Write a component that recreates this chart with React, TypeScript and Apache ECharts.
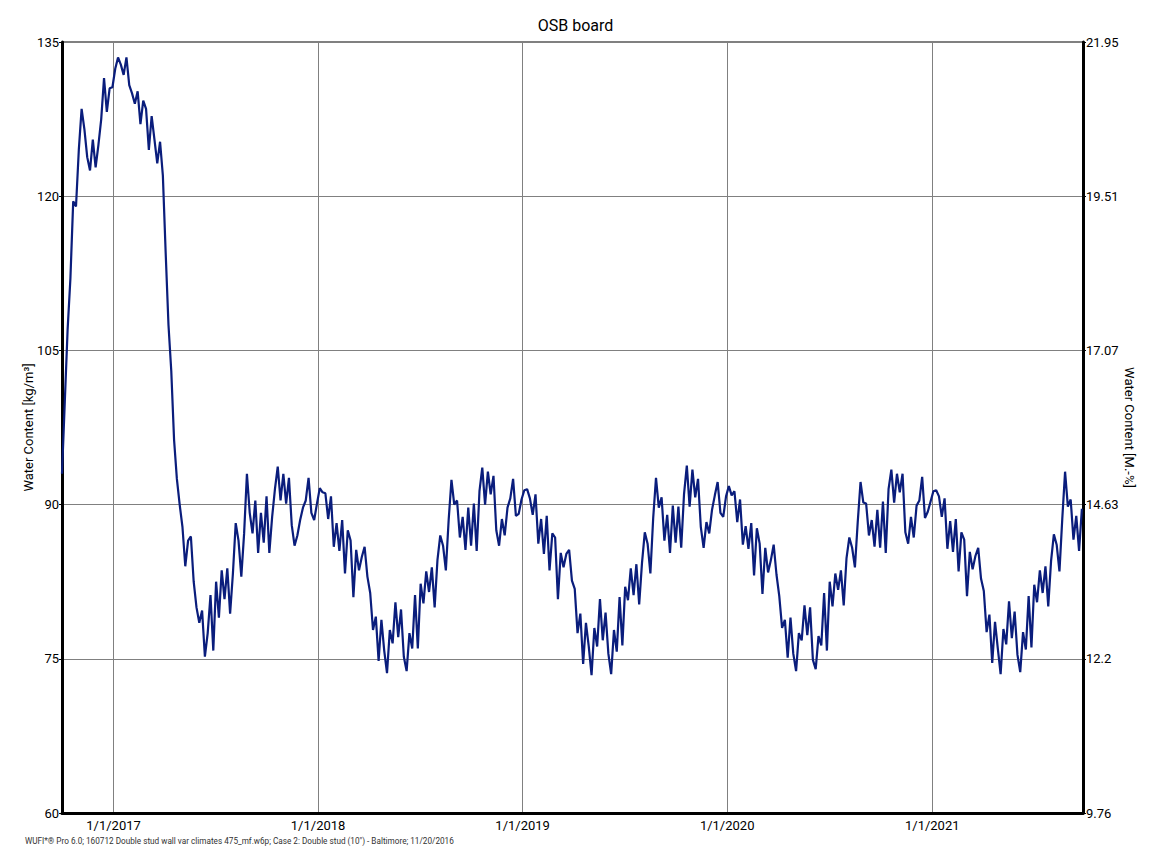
import React, { useEffect, useRef } from "react";
import * as echarts from "echarts";

// Days counted from 2016-10-01; one sample every 5 days
const startDate = "2016-10-01";
const stepDays = 5;

const wcYear1 = [93, 100, 107, 112, 119.5, 119, 124.5, 128.5, 126.5, 123.8, 122.5, 125.5, 122.8, 125, 127.5, 131.5, 128.2, 130.5, 130.6, 132.4, 133.5, 132.8, 131.8, 133.5, 130.8, 130, 129, 130.2, 127, 129.3, 128.5, 124.5, 127.8, 125.5, 123.2, 125.3, 122, 114.5, 107.5, 103, 96.3, 92.5, 90, 87.8, 84, 86.5, 86.9, 82.5, 80, 78.5, 79.7, 75.2, 77.5, 81.2, 75.8, 82.5, 79, 83.6, 80.8, 83.8, 79.4, 83.3, 88.2, 86.5, 83, 87.2, 93, 89.2, 87.2, 90.4, 85.3, 89.2, 86.3];
const wcYear2 = [90.8, 85.3, 88.8, 91.5, 93.7, 90.4, 93, 90.1, 92.6, 88, 86, 87, 88.5, 89.7, 90.4, 92.6, 89.2, 88.5, 90.1, 91.6, 91.2, 91.1, 88.6, 90.8, 85.9, 88.2, 85.5, 88.5, 83.3, 87.5, 86.5, 81, 85.6, 83.6, 84.9, 85.9, 83, 81.4, 77.8, 79.1, 74.8, 78.8, 75.8, 73.6, 77.8, 76.5, 80.5, 77.1, 79.8, 75.2, 73.8, 77.5, 76, 81.2, 76, 82.3, 80.4, 83.5, 81.5, 83.9, 80, 84.6, 87, 86, 83.6, 88.5, 92.4, 90, 90.4, 86.8, 88.8, 85.6, 89.7];
const wcYear3 = [86, 90.1, 85.5, 91.3, 93.6, 90, 93.2, 91, 92.8, 87.5, 86, 88.6, 87, 89.7, 90.6, 92.5, 88.9, 89.1, 90.5, 91.4, 91.5, 90.6, 89, 91, 86.2, 88.6, 85.2, 88.9, 83.6, 87.2, 86.8, 80.8, 85.3, 83.9, 85.2, 85.6, 82.6, 81.8, 77.5, 79.4, 74.5, 78.5, 76.2, 73.4, 78, 76.2, 80.8, 76.8, 79.5, 75.5, 73.5, 77.8, 75.7, 81, 76.3, 82, 80.7, 83.8, 81.2, 84.2, 80.3, 84.3, 87.3, 86.2, 83.3, 88.7, 92.6, 89.7, 90.7, 86.5, 89, 85.3, 89.9];
const wcYear4 = [86.3, 89.8, 85.8, 91, 93.8, 89.8, 93.4, 90.7, 92.5, 87.8, 85.8, 88.3, 87.2, 89.5, 90.9, 92.2, 89.2, 88.8, 90.8, 91.8, 90.9, 91.3, 88.3, 90.5, 86.1, 87.9, 85.7, 88.2, 83.1, 87.7, 86.2, 81.3, 85.8, 83.4, 84.6, 86.1, 83.2, 81.1, 78, 78.8, 75.1, 79, 75.5, 73.8, 77.5, 76.8, 80.2, 77.3, 80, 74.9, 74, 77.2, 76.3, 81.4, 75.8, 82.5, 80.1, 83.3, 81.7, 83.6, 80.2, 84.8, 86.8, 85.8, 83.9, 88.3, 92.2, 90.2, 90.1, 87, 88.5, 85.9, 89.5];
const wcYear5 = [85.8, 90.3, 85.3, 91.5, 93.4, 90.2, 93, 91.2, 93, 87.3, 86.2, 88.8, 86.8, 89.9, 90.4, 92.7, 88.7, 89.3, 90.3, 91.3, 91.4, 90.8, 88.8, 90.6, 85.7, 88.4, 85.4, 88.6, 83.5, 87.3, 86.6, 81.1, 85.4, 83.7, 85, 85.8, 82.8, 81.6, 77.6, 79.3, 74.6, 78.6, 76, 73.5, 77.9, 76.4, 80.6, 77, 79.6, 75.4, 73.7, 77.6, 75.9, 81.1, 76.1, 82.2, 80.5, 83.6, 81.4, 84, 80.1, 84.5, 87.1, 86.1, 83.5, 88.6, 93.2, 89.8, 90.5, 86.6, 88.9, 85.5, 89.6];

// x-axis tick positions (days since startDate) and their labels
const xTickDays = [92, 457, 822, 1187, 1553];
const xTickLabels = ["1/1/2017", "1/1/2018", "1/1/2019", "1/1/2020", "1/1/2021"];
const xMin = 0;
const xMax = 1822;

const leftMin = 60;
const leftMax = 135;
const leftInterval = 15;
const rightTickLabels = ["9.76", "12.2", "14.63", "17.07", "19.51", "21.95"];

const title = "OSB board";
const leftAxisName = "Water Content [kg/m³]";
const rightAxisName = "Water Content [M.-%]";
const footer =
  'WUFI*® Pro 6.0; 160712 Double stud wall var climates 475_mf.w6p; Case 2: Double stud (10") - Baltimore; 11/20/2016';

export default function App() {
  const ref = useRef<HTMLDivElement>(null);

  useEffect(() => {
    if (!ref.current) return;
    const chart = echarts.init(ref.current, null, { renderer: "svg" });
    const values = [...wcYear1, ...wcYear2, ...wcYear3, ...wcYear4, ...wcYear5];
    const data = values.map((v, i) => [i * stepDays, v]);
    const font = "Roboto, Arial, sans-serif";

    chart.setOption({
      animation: false,
      backgroundColor: "#ffffff",
      title: {
        text: title,
        left: "center",
        top: 12,
        textStyle: { fontFamily: font, fontSize: 16, fontWeight: "normal", color: "#000" },
      },
      grid: {
        left: 62,
        right: 68,
        top: 42,
        bottom: 43,
        show: true,
        borderColor: "#000",
        borderWidth: 1,
        backgroundColor: "#fff",
      },
      xAxis: {
        type: "value",
        min: xMin,
        max: xMax,
        axisLine: { show: true, onZero: false, lineStyle: { color: "#000", width: 3 } },
        axisTick: { show: false, customValues: xTickDays },
        axisLabel: {
          customValues: xTickDays,
          formatter: (v: number) => {
            const idx = xTickDays.indexOf(v);
            return idx >= 0 ? xTickLabels[idx] : "";
          },
          color: "#000",
          fontFamily: font,
          fontSize: 13,
          margin: 6,
        },
        splitLine: { show: true, lineStyle: { color: "#808080", width: 1 } },
      },
      yAxis: [
        {
          type: "value",
          min: leftMin,
          max: leftMax,
          interval: leftInterval,
          position: "left",
          name: leftAxisName,
          nameLocation: "middle",
          nameGap: 27,
          nameMoveOverlap: false,
          nameTextStyle: { fontFamily: font, fontSize: 13, color: "#000" },
          axisLine: { show: true, lineStyle: { color: "#000", width: 3 } },
          axisTick: { show: true, length: 3, lineStyle: { color: "#000" } },
          axisLabel: { color: "#000", fontFamily: font, fontSize: 13, margin: 3 },
          splitLine: { show: true, lineStyle: { color: "#808080", width: 1 } },
        },
        {
          type: "value",
          min: leftMin,
          max: leftMax,
          interval: leftInterval,
          position: "right",
          name: rightAxisName,
          nameLocation: "middle",
          nameRotate: -90,
          nameGap: 40,
          nameMoveOverlap: false,
          nameTextStyle: { fontFamily: font, fontSize: 13, color: "#000" },
          axisLine: { show: true, lineStyle: { color: "#000", width: 3 } },
          axisTick: { show: true, length: 3, lineStyle: { color: "#000" } },
          axisLabel: {
            color: "#000",
            fontFamily: font,
            fontSize: 13,
            margin: 3,
            formatter: (v: number) => rightTickLabels[Math.round((v - leftMin) / leftInterval)] ?? "",
          },
          splitLine: { show: false },
        },
      ],
      graphic: [
        {
          type: "text",
          left: 25,
          top: 837,
          style: { text: footer, fontFamily: font, fontSize: 8.2, fill: "#333" },
        },
      ],
      series: [
        {
          type: "line",
          name: "OSB board",
          data,
          yAxisIndex: 0,
          showSymbol: false,
          symbol: "none",
          lineStyle: { color: "#0a1d7c", width: 2.2 },
          z: 3,
        },
      ],
    });

    return () => chart.dispose();
  }, []);

  return (
    <div
      ref={ref}
      style={{ position: "absolute", left: 0, top: 0, width: 1151, height: 856 }}
    />
  );
}
